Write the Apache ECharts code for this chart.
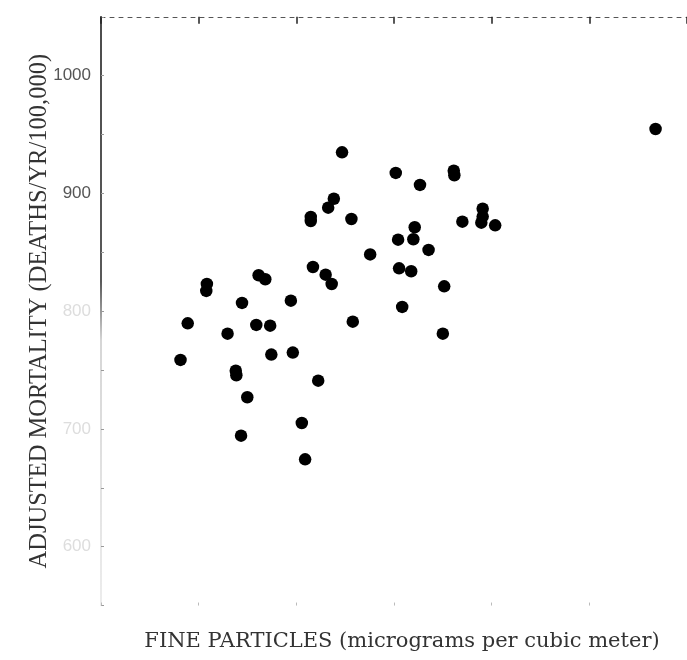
<!DOCTYPE html>
<html>
<head>
<meta charset="utf-8">
<script src="https://cdn.jsdelivr.net/npm/echarts@6/dist/echarts.min.js"></script>
<style>html,body{margin:0;padding:0;background:#fff}#c{width:687px;height:660px}</style>
</head>
<body>
<div id="c"></div>
<script>
// Fine particles (micrograms per cubic meter)
const fineParticles = [
  17.34, 16.92, 16.63, 15.74, 15.74, 17.82, 18.78, 15.85, 16.50, 16.81,
  13.07, 13.41, 10.42, 10.39, 12.22, 14.72, 9.44, 11.48, 12.95, 13.66,
  17.89, 9.07, 13.72, 14.82, 11.90, 11.93, 16.12, 12.49, 15.28, 12.17,
  15.45, 33.39, 20.09, 21.33, 23.06, 23.09, 24.54, 24.54, 24.47, 25.18,
  23.50, 21.06, 20.21, 20.99, 21.77, 20.26, 20.88, 22.57, 20.42, 22.50
];
// Adjusted mortality (deaths/yr/100,000)
const mortality = [
  934.9, 895.5, 887.9, 880.0, 876.6, 878.3, 848.2, 837.5, 831.0, 823.1,
  830.5, 827.1, 823.1, 817.2, 807.0, 808.9, 789.7, 780.9, 788.3, 787.7,
  791.1, 758.6, 763.1, 764.8, 749.5, 745.6, 741.0, 726.9, 705.0, 694.3,
  674.2, 954.7, 917.4, 907.2, 919.3, 915.4, 887.0, 880.3, 875.2, 872.9,
  876.0, 871.3, 860.7, 861.1, 852.0, 836.4, 833.9, 821.1, 803.6, 780.9
];
const yTickLabels = ['600', '700', '800', '900', '1000'];
const xTitle = 'FINE PARTICLES (micrograms per cubic meter)';
const yTitle = 'ADJUSTED MORTALITY (DEATHS/YR/100,000)';

const points = fineParticles.map((x, i) => [x, mortality[i]]);
const chart = echarts.init(document.getElementById('c'), null, {renderer: 'canvas'});
const leftLineColor = new echarts.graphic.LinearGradient(0, 16, 0, 606, [
  {offset: 0, color: '#111'}, {offset: 0.45, color: '#222'},
  {offset: 0.55, color: '#c8c8c8'}, {offset: 1, color: '#e6e6e6'}
], true);
chart.setOption({
  backgroundColor: '#fff',
  animation: false,
  grid: {left: 101, top: 16.8, width: 589.5, height: 588.75, containLabel: false},
  xAxis: [{
    type: 'value', min: 5, max: 35, interval: 5, position: 'bottom',
    name: xTitle, nameLocation: 'middle', nameGap: 25,
    nameTextStyle: {fontFamily: 'DejaVu Serif', fontSize: 21, color: '#333', padding: [0, 0, 0, 16]},
    axisLine: {show: false},
    axisTick: {show: true, inside: true, length: 3, lineStyle: {color: '#bbb'}},
    axisLabel: {show: false},
    splitLine: {show: false}
  }, {
    type: 'value', min: 5, max: 35, interval: 5, position: 'top',
    axisLine: {show: true, onZero: false, lineStyle: {color: '#555', width: 1, type: [4, 5]}},
    axisTick: {show: true, inside: true, length: 7, lineStyle: {color: '#222', width: 1.5}},
    axisLabel: {show: false},
    splitLine: {show: false}
  }],
  yAxis: {
    type: 'value', min: 550, max: 1050, interval: 50,
    name: yTitle, nameLocation: 'middle', nameGap: 49, nameRotate: 90,
    nameMoveOverlap: false,
    nameTextStyle: {fontFamily: 'Liberation Serif', fontSize: 24.5, color: '#333'},
    axisLine: {show: true, lineStyle: {color: leftLineColor, width: 1.5}},
    axisTick: {show: true, inside: true, length: 3, lineStyle: {color: '#999'}},
    axisLabel: {
      margin: 10,
      formatter: function (v) {
        const s = String(v);
        if (yTickLabels.indexOf(s) < 0) return '';
        return v >= 900 ? '{d|' + s + '}' : '{f|' + s + '}';
      },
      rich: {
        d: {fontFamily: 'Liberation Sans', fontSize: 17, color: '#555'},
        f: {fontFamily: 'Liberation Sans', fontSize: 17, color: '#dddddd'}
      }
    },
    splitLine: {show: false}
  },
  series: [{
    type: 'scatter',
    xAxisIndex: 0,
    data: points,
    symbol: 'circle',
    symbolSize: 12.5,
    itemStyle: {color: '#000', opacity: 1}
  }]
});
</script>
</body>
</html>
